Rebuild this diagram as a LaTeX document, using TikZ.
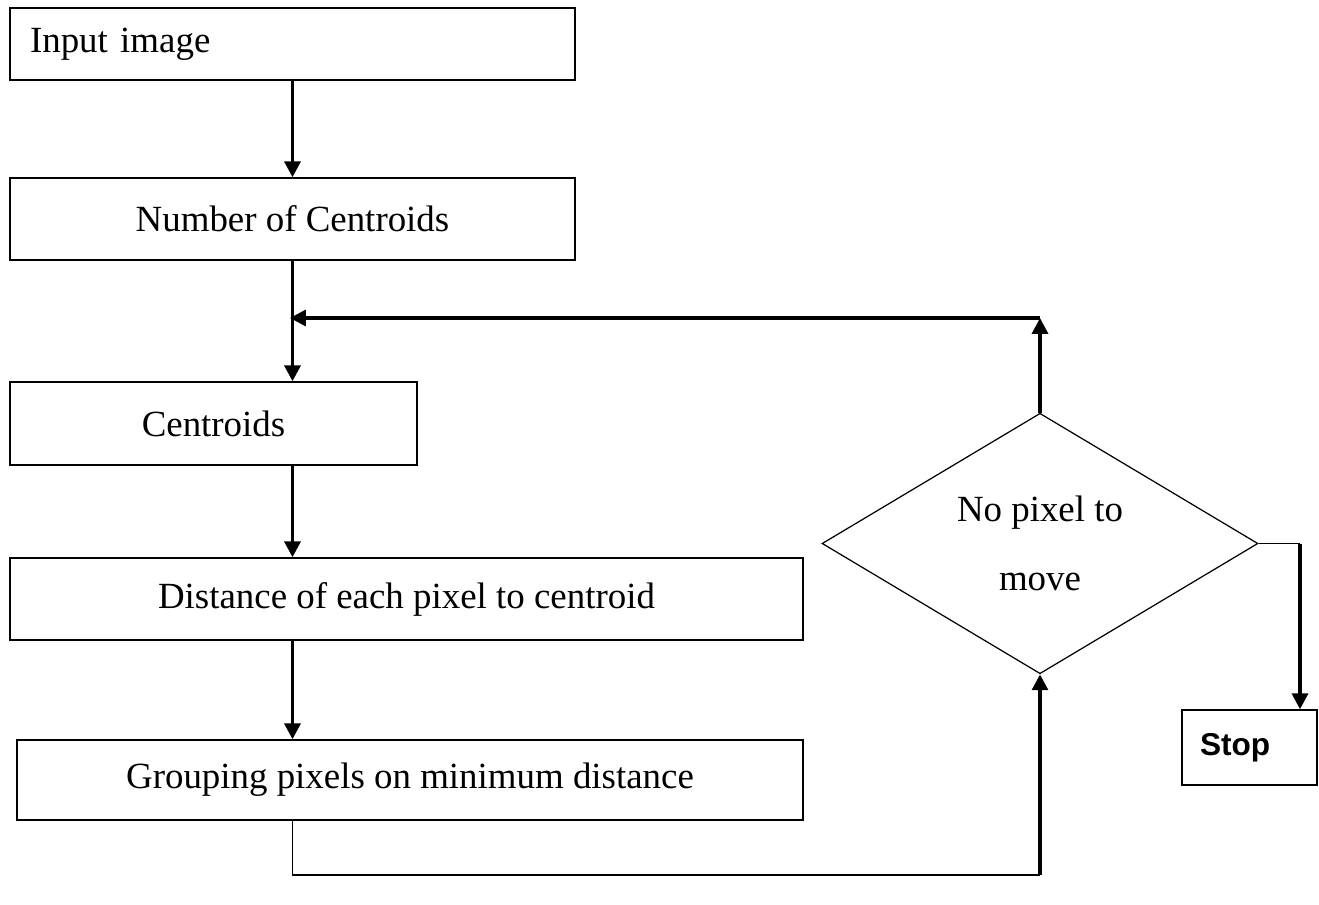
\documentclass[tikz,border=0pt]{standalone}
\usepackage{fontspec}
\setmainfont{Liberation Serif}
\newfontfamily\stopfont{Liberation Sans}
\usetikzlibrary{shapes.geometric,arrows.meta,positioning,calc}

\begin{document}
\begin{tikzpicture}[x=0.02cm, y=-0.02cm, font=\fontsize{21}{25}\selectfont,
  procbox/.style={draw, line width=0.8pt, inner sep=0pt},
  decbox/.style={draw, diamond, line width=0.7pt, inner sep=0pt, align=center},
  flow/.style={line width=2pt, -{Triangle[width=9pt,length=9pt]}},
  link/.style={line width=0.8pt}]
  \useasboundingbox (0,0) rectangle (1319,905);

  % Main column of steps
  \node[procbox, minimum width=11.3cm, minimum height=1.44cm, text width=10.5cm, align=left] (input) at (292.5,44) {Input image};
  \node[procbox, minimum width=11.3cm, minimum height=1.64cm] (ncent) at (292.5,219) {Number of Centroids};
  \node[procbox, minimum width=8.14cm, minimum height=1.66cm] (cent) at (213.5,423.5) {Centroids};
  \node[procbox, minimum width=15.86cm, minimum height=1.64cm] (dist) at (406.5,599) {Distance of each pixel to centroid};
  \node[procbox, minimum width=15.72cm, minimum height=1.6cm] (group) at (410,780) {Grouping pixels on minimum distance};

  % Decision and end
  \node[decbox, minimum width=8.72cm, minimum height=5.14cm] (dec) at (1040,543.5) {No pixel to\\[14pt]move};
  \node[procbox, minimum width=2.7cm, minimum height=1.5cm, text width=1.98cm, align=left,
        font=\stopfont\bfseries\fontsize{18}{22}\selectfont] (stop) at (1249.5,747.5) {Stop};

  % Helper points
  \coordinate (join) at (290,318);
  \coordinate (bot) at (1040,875);
  \coordinate (turn) at (1300,545);

  % Connectors
  \draw[flow] (input.south) -- (ncent.north);
  \draw[flow] (ncent.south) -- (ncent.south |- cent.north);
  \draw[flow] (ncent.south |- cent.south) -- (ncent.south |- dist.north);
  \draw[flow] (ncent.south |- dist.south) -- (ncent.south |- group.north);

  % Loop back from the decision
  \draw[link] (ncent.south |- group.south) |- (bot);
  \draw[flow] (bot) -- (dec.south);
  \draw[flow] (dec.north) -- (dec.north |- join);
  \draw[flow] (dec.north |- join) -- (join);

  % Exit to stop
  \draw[link] (dec.east) -- (dec.east -| turn);
  \draw[flow] (dec.east -| turn) -- (turn |- stop.north);
\end{tikzpicture}
\end{document}
